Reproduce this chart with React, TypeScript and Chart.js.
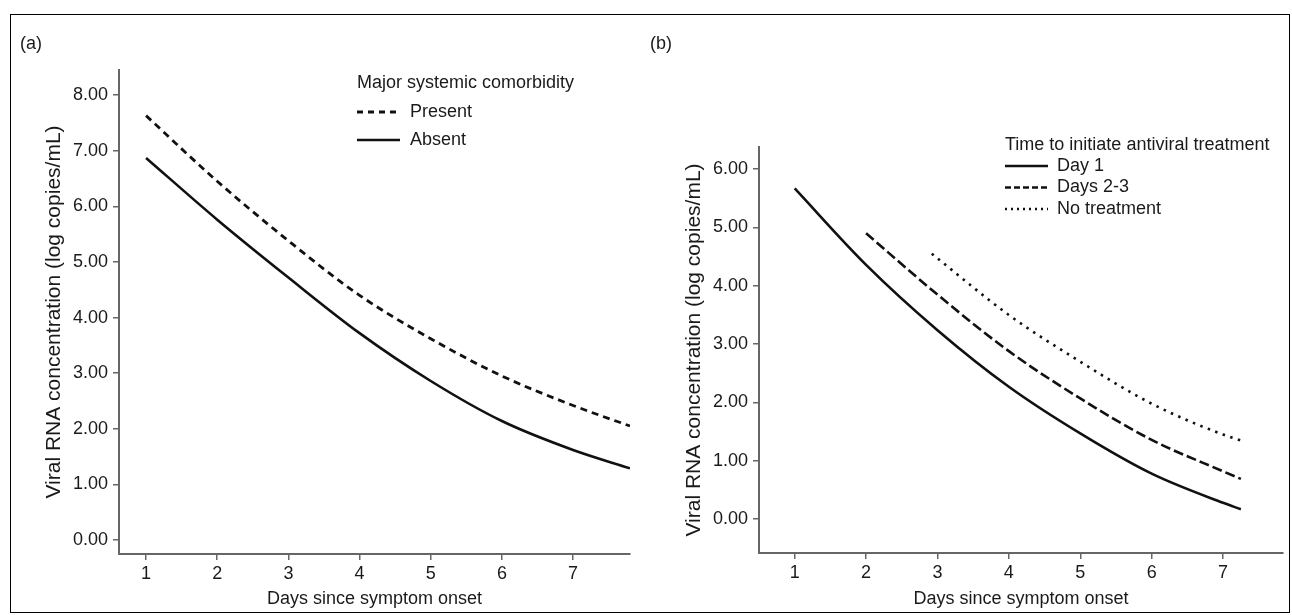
import React, { useEffect, useRef } from "react";
import { Chart, registerables } from "chart.js";

Chart.register(...registerables);

// ---------- data ----------
const xTicks = [1, 2, 3, 4, 5, 6, 7];
const leftYTicks = [0, 1, 2, 3, 4, 5, 6, 7, 8];
const rightYTicks = [0, 1, 2, 3, 4, 5, 6];

const leftDays = [1, 2, 3, 4, 5, 6, 7, 7.8];
const presentValues = [7.63, 6.45, 5.38, 4.4, 3.62, 2.95, 2.42, 2.05];
const absentValues = [6.87, 5.76, 4.72, 3.72, 2.86, 2.14, 1.62, 1.29];

const day1Days = [1, 2, 3, 4, 5, 6, 7, 7.25];
const day1Values = [5.67, 4.36, 3.24, 2.27, 1.47, 0.78, 0.28, 0.17];
const days23Days = [2, 3, 4, 5, 6, 7, 7.25];
const days23Values = [4.9, 3.85, 2.88, 2.07, 1.36, 0.82, 0.69];
const noTreatDays = [2.92, 4, 5, 6, 7, 7.25];
const noTreatValues = [4.55, 3.5, 2.7, 1.98, 1.45, 1.35];

const leftLegendTitle = "Major systemic comorbidity";
const rightLegendTitle = "Time to initiate antiviral treatment";
const xTitle = "Days since symptom onset";
const yTitle = "Viral RNA concentration (log copies/mL)";

// ---------- styles ----------
const FONT = '"Liberation Sans", Arial, Helvetica, sans-serif';
const TEXT = "#1a1a1a";
const AXIS = "#666666";
const LINE = "#111111";

const toPoints = (xs: number[], ys: number[]) => xs.map((x, i) => ({ x, y: ys[i] }));

const overlayPlugin = {
  id: "overlay",
  afterDraw(chart: any, _args: any, opts: any) {
    const ctx = chart.ctx as CanvasRenderingContext2D;
    ctx.save();
    ctx.fillStyle = TEXT;
    ctx.textAlign = "left";
    ctx.textBaseline = "middle";
    ctx.font = `${opts.panelFont}px ${FONT}`;
    ctx.fillText(opts.panelLabel, opts.panelX, opts.panelY);
    ctx.font = `${opts.legendFont}px ${FONT}`;
    ctx.fillText(opts.title, opts.x, opts.titleY);
    chart.data.datasets.forEach((ds: any, i: number) => {
      const y = opts.firstRowY + i * opts.rowGap;
      ctx.beginPath();
      ctx.setLineDash(ds.legendDash || []);
      ctx.lineWidth = ds.borderWidth;
      ctx.strokeStyle = ds.borderColor;
      ctx.moveTo(opts.x, y);
      ctx.lineTo(opts.x + opts.sampleLen, y);
      ctx.stroke();
      ctx.setLineDash([]);
      ctx.fillText(ds.label, opts.x + opts.textOffset, y);
    });
    ctx.restore();
  },
};

function makeConfig(p: any) {
  return {
    type: "line",
    data: { datasets: p.datasets },
    plugins: [overlayPlugin],
    options: {
      responsive: false,
      animation: false,
      devicePixelRatio: 1,
      layout: { padding: { top: p.padTop, right: p.padRight, left: 0, bottom: 0 } },
      elements: { point: { radius: 0 } },
      plugins: {
        legend: { display: false },
        tooltip: { enabled: false },
        overlay: p.overlay,
      },
      scales: {
        x: {
          type: "linear",
          min: p.xMin,
          max: p.xMax,
          afterBuildTicks: (s: any) => {
            s.ticks = xTicks.map((v) => ({ value: v }));
          },
          afterFit: (s: any) => {
            s.height = p.xHeight;
          },
          ticks: {
            autoSkip: false,
            maxRotation: 0,
            padding: 3,
            color: TEXT,
            font: { size: 18, family: FONT },
            callback: (v: any) => String(v),
          },
          grid: { drawOnChartArea: false, drawTicks: true, tickLength: 6, color: AXIS, lineWidth: 1.5 },
          border: { display: true, color: AXIS, width: 2 },
          title: {
            display: true,
            text: xTitle,
            color: TEXT,
            font: { size: 18, family: FONT },
            padding: { top: 0, bottom: 5 },
          },
        },
        y: {
          type: "linear",
          min: p.yMin,
          max: p.yMax,
          afterBuildTicks: (s: any) => {
            s.ticks = p.yTicks.map((v: number) => ({ value: v }));
          },
          afterFit: (s: any) => {
            s.width = p.yWidth;
          },
          ticks: {
            autoSkip: false,
            padding: 5,
            color: TEXT,
            font: { size: 18, family: FONT },
            callback: (v: any) => Number(v).toFixed(2),
          },
          grid: { drawOnChartArea: false, drawTicks: true, tickLength: 6, color: AXIS, lineWidth: 1.5 },
          border: { display: true, color: AXIS, width: 2 },
          title: {
            display: true,
            text: yTitle,
            color: TEXT,
            font: { size: 21, family: FONT },
            padding: { top: p.yTitlePad, bottom: 0 },
          },
        },
      },
    },
  };
}

const lineDefaults = {
  borderColor: LINE,
  borderWidth: 2.6,
  fill: false,
  pointRadius: 0,
  cubicInterpolationMode: "monotone",
  borderCapStyle: "butt",
};

function Panel({ left, config }: { left: number; config: any }) {
  const ref = useRef<HTMLCanvasElement | null>(null);
  useEffect(() => {
    if (!ref.current) return;
    const chart = new Chart(ref.current, config);
    return () => chart.destroy();
  }, []);
  return (
    <canvas
      ref={ref}
      width={646}
      height={615}
      style={{ position: "absolute", left, top: 0, width: 646, height: 615 }}
    />
  );
}

export default function App() {
  const leftConfig = makeConfig({
    datasets: [
      { ...lineDefaults, label: "Present", data: toPoints(leftDays, presentValues), borderDash: [7, 5], legendDash: [6, 5], borderWidth: 2.8 },
      { ...lineDefaults, label: "Absent", data: toPoints(leftDays, absentValues) },
    ],
    padTop: 70,
    padRight: 16,
    xMin: 0.62,
    xMax: 7.8,
    xHeight: 61,
    yMin: -0.25,
    yMax: 8.45,
    yTicks: leftYTicks,
    yWidth: 119,
    yTitlePad: 42,
    overlay: {
      panelLabel: "(a)",
      panelX: 20,
      panelY: 44,
      panelFont: 18,
      legendFont: 18,
      title: leftLegendTitle,
      x: 357,
      titleY: 83,
      firstRowY: 112,
      rowGap: 28,
      sampleLen: 43,
      textOffset: 53,
    },
  });

  const rightConfig = makeConfig({
    datasets: [
      { ...lineDefaults, label: "Day 1", data: toPoints(day1Days, day1Values) },
      { ...lineDefaults, label: "Days 2-3", data: toPoints(days23Days, days23Values), borderDash: [10, 4], legendDash: [6, 3] },
      { ...lineDefaults, label: "No treatment", data: toPoints(noTreatDays, noTreatValues), borderDash: [2.5, 5.5], legendDash: [2, 4] },
    ],
    padTop: 147,
    padRight: 9,
    xMin: 0.5,
    xMax: 7.84,
    xHeight: 62,
    yMin: -0.58,
    yMax: 6.38,
    yTicks: rightYTicks,
    yWidth: 113,
    yTitlePad: 36,
    overlay: {
      panelLabel: "(b)",
      panelX: 4,
      panelY: 44,
      panelFont: 18,
      legendFont: 18,
      title: rightLegendTitle,
      x: 359,
      titleY: 145,
      firstRowY: 166,
      rowGap: 21.5,
      sampleLen: 43,
      textOffset: 52,
    },
  });

  return (
    <div style={{ position: "absolute", left: 0, top: 0, width: 1292, height: 615, background: "#fff", overflow: "hidden" }}>
      <div
        style={{
          position: "absolute",
          left: 10,
          top: 14,
          width: 1280,
          height: 599,
          border: "1.5px solid #000",
          boxSizing: "border-box",
        }}
      />
      <Panel left={0} config={leftConfig} />
      <Panel left={646} config={rightConfig} />
    </div>
  );
}
